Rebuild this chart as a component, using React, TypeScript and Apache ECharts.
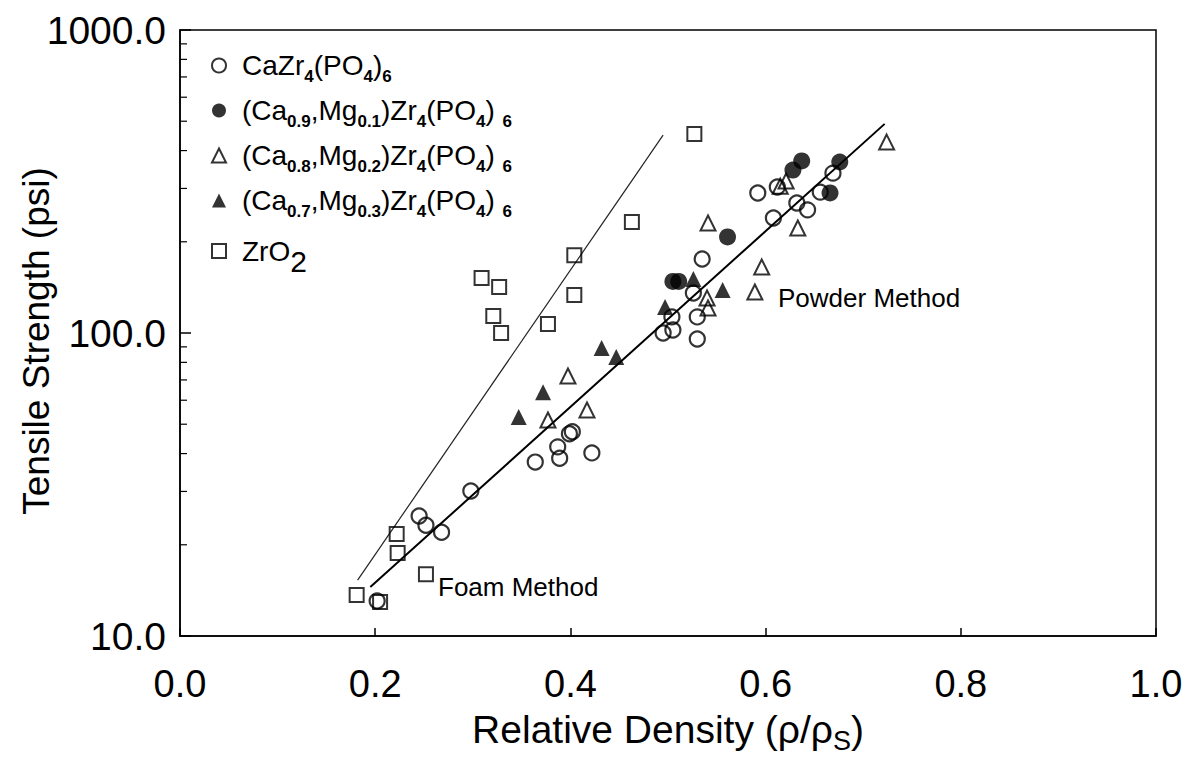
import React, { useEffect, useRef } from "react";
import * as echarts from "echarts";

const FONT = "Liberation Sans";

// Series names (plain) and their rich-text legend labels
const seriesNames = [
  "CaZr4(PO4)6",
  "(Ca0.9,Mg0.1)Zr4(PO4)6",
  "(Ca0.8,Mg0.2)Zr4(PO4)6",
  "(Ca0.7,Mg0.3)Zr4(PO4)6",
  "ZrO2",
];
const legendLabels = [
  "CaZr{s|4}(PO{s|4}){s|6}",
  "(Ca{s|0.9},Mg{s|0.1})Zr{s|4}(PO{s|4}) {s|6}",
  "(Ca{s|0.8},Mg{s|0.2})Zr{s|4}(PO{s|4}) {s|6}",
  "(Ca{s|0.7},Mg{s|0.3})Zr{s|4}(PO{s|4}) {s|6}",
  "ZrO{b|2}",
];

// CaZr4(PO4)6  (open circles)
const caZrX = [0.202, 0.245, 0.252, 0.268, 0.298, 0.364, 0.387, 0.389, 0.399, 0.402, 0.422, 0.495, 0.505, 0.504, 0.530, 0.530, 0.526, 0.535, 0.608, 0.632, 0.643, 0.656, 0.669, 0.612, 0.592];
const caZrY = [13.05, 24.9, 23.2, 22.0, 30.1, 37.5, 42.1, 38.6, 46.5, 47.2, 40.2, 100, 102.3, 113, 113, 95.5, 135.5, 175.4, 239.6, 268.5, 254.9, 291.7, 337, 303.4, 289.9];

// (Ca0.9,Mg0.1)Zr4(PO4)6  (filled circles)
const mg01X = [0.505, 0.511, 0.561, 0.628, 0.637, 0.676, 0.666];
const mg01Y = [148, 148, 207.5, 345, 369.8, 366.7, 289.9];

// (Ca0.8,Mg0.2)Zr4(PO4)6  (open triangles)
const mg02X = [0.377, 0.417, 0.3975, 0.540, 0.541, 0.589, 0.596, 0.541, 0.633, 0.621, 0.615, 0.724];
const mg02Y = [51.6, 55.7, 72.1, 130.5, 120.9, 136.5, 165.2, 230.7, 222.1, 317.5, 305, 426.6];

// (Ca0.7,Mg0.3)Zr4(PO4)6  (filled triangles)
const mg03X = [0.347, 0.372, 0.432, 0.447, 0.497, 0.526, 0.556];
const mg03Y = [52.8, 63.8, 89.2, 83.4, 121.9, 150.7, 138.7];

// ZrO2  (open squares)
const zro2X = [0.181, 0.205, 0.222, 0.223, 0.252, 0.309, 0.327, 0.321, 0.329, 0.377, 0.404, 0.404, 0.463, 0.527];
const zro2Y = [13.65, 12.95, 21.7, 18.8, 16.0, 151.9, 141.9, 113.8, 100, 107.1, 180.7, 133.5, 232.3, 453.7];

// Fit lines
const zrFitX = [0.182, 0.495];
const zrFitY = [15.3, 450];
const powderFitX = [0.195, 0.722];
const powderFitY = [14.5, 490];

// Log minor tick values on the y axis
const minorTickValues = [20, 30, 40, 50, 60, 70, 80, 90, 200, 300, 400, 500, 600, 700, 800, 900];

const zip = (xs: number[], ys: number[]) => xs.map((x, i) => [x, ys[i]]);

const HOLLOW = "rgba(255,255,255,0)";

export default function App() {
  const ref = useRef<HTMLDivElement>(null);
  useEffect(() => {
    const chart = echarts.init(ref.current!, null, { renderer: "svg" });
    const scatterBase = { type: "scatter", silent: true, emphasis: { disabled: true } };
    const option: any = {
      animation: false,
      backgroundColor: "#fff",
      grid: {
        left: 180, right: 29, top: 30, bottom: 130,
        containLabel: false, outerBoundsMode: "none",
        show: true, borderColor: "#000", borderWidth: 1.5, backgroundColor: "transparent",
      },
      legend: {
        orient: "vertical",
        left: 206,
        top: 41,
        itemGap: 6,
        itemWidth: 14,
        itemHeight: 14,
        selectedMode: false,
        data: seriesNames,
        formatter: (name: string) => "{g|}" + legendLabels[seriesNames.indexOf(name)],
        textStyle: {
          fontFamily: FONT, fontSize: 28, color: "#000", lineHeight: 30,
          rich: {
            g: { width: 11, fontSize: 28, lineHeight: 30 },
            s: { fontFamily: FONT, fontSize: 17, fontWeight: "bold", color: "#000", lineHeight: 18, padding: [22, 0, 0, 0] },
            b: { fontFamily: FONT, fontSize: 30, color: "#000", lineHeight: 30, padding: [20, 0, 0, 0] },
          },
        },
      },
      xAxis: {
        type: "value", min: 0, max: 1, interval: 0.2,
        axisLine: { lineStyle: { color: "#000", width: 1.5 } },
        axisTick: { inside: true, length: 8, lineStyle: { color: "#000", width: 1.5 } },
        axisLabel: { formatter: (v: number) => v.toFixed(1), fontFamily: FONT, fontSize: 38, color: "#000", margin: 29 },
        splitLine: { show: false },
        name: "Relative Density (ρ/ρ{s|S})",
        nameLocation: "middle",
        nameGap: 74,
        nameMoveOverlap: false,
        nameTextStyle: {
          fontFamily: FONT, fontSize: 39, color: "#000",
          rich: { s: { fontFamily: FONT, fontSize: 27, color: "#000", lineHeight: 27, padding: [22, 0, 0, 0] } },
        },
      },
      yAxis: {
        type: "log", logBase: 10, min: 10, max: 1000,
        axisLine: { lineStyle: { color: "#000", width: 1.5 } },
        axisTick: { inside: true, length: 11, lineStyle: { color: "#000", width: 1.5 } },
        axisLabel: { formatter: (v: number) => v.toFixed(1), fontFamily: FONT, fontSize: 39, color: "#000", margin: 14 },
        splitLine: { show: false },
        name: "Tensile Strength (psi)",
        nameLocation: "middle",
        nameGap: 125,
        nameMoveOverlap: false,
        nameTextStyle: { fontFamily: FONT, fontSize: 37, color: "#000", padding: [0, 16, 0, 0] },
      },
      graphic: [
        { type: "text", x: 778, y: 298, style: { text: "Powder Method", fontFamily: FONT, fontSize: 26, fill: "#000", verticalAlign: "middle", align: "left" } },
        { type: "text", x: 438, y: 587, style: { text: "Foam Method", fontFamily: FONT, fontSize: 26, fill: "#000", verticalAlign: "middle", align: "left" } },
      ],
      series: [
        {
          type: "line", name: "ZrO2 fit", data: zip(zrFitX, zrFitY), showSymbol: false, silent: true,
          lineStyle: { color: "#222", width: 1.2 }, z: 1,
        },
        {
          type: "line", name: "Powder fit", data: zip(powderFitX, powderFitY), showSymbol: false, silent: true,
          lineStyle: { color: "#000", width: 2 }, z: 1,
        },
        {
          ...scatterBase, name: seriesNames[4], data: zip(zro2X, zro2Y), symbol: "rect", symbolSize: 14,
          itemStyle: { color: HOLLOW, borderColor: "#000", borderWidth: 2 }, z: 2,
        },
        {
          ...scatterBase, name: seriesNames[0], data: zip(caZrX, caZrY), symbol: "circle", symbolSize: 15,
          itemStyle: { color: HOLLOW, borderColor: "#000", borderWidth: 2.2 }, z: 3,
        },
        {
          ...scatterBase, name: seriesNames[2], data: zip(mg02X, mg02Y), symbol: "triangle", symbolSize: 15,
          itemStyle: { color: HOLLOW, borderColor: "#000", borderWidth: 2 }, z: 3,
        },
        {
          ...scatterBase, name: seriesNames[1], data: zip(mg01X, mg01Y), symbol: "circle", symbolSize: 17,
          itemStyle: { color: "#000", borderColor: "#000", borderWidth: 0 }, z: 4,
        },
        {
          ...scatterBase, name: seriesNames[3], data: zip(mg03X, mg03Y), symbol: "triangle", symbolSize: 16,
          itemStyle: { color: "#000", borderColor: "#000", borderWidth: 0 }, z: 4,
        },
        {
          type: "custom", name: "minor ticks", silent: true, z: 5,
          data: minorTickValues.map((v) => [0, v]),
          encode: { x: 0, y: 1 },
          renderItem: (_p: any, api: any) => {
            const p = api.coord([api.value(0), api.value(1)]);
            return {
              type: "line",
              shape: { x1: p[0], y1: p[1], x2: p[0] + 7, y2: p[1] },
              style: { stroke: "#000", lineWidth: 1.2 },
            };
          },
        },
      ],
    };
    chart.setOption(option);
    return () => chart.dispose();
  }, []);
  return (
    <div
      ref={ref}
      style={{ position: "fixed", left: 0, top: 0, width: 1185, height: 766, background: "#fff" }}
    />
  );
}
